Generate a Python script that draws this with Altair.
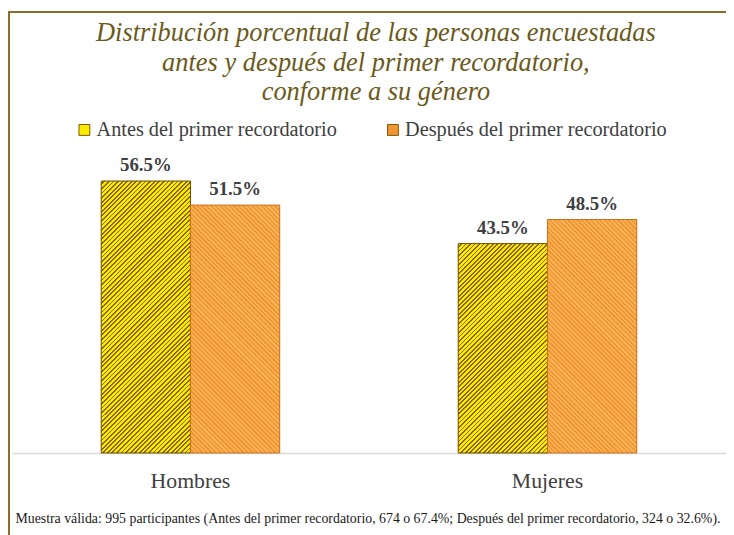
import altair as alt
import pandas as pd

# ---- data ----
generos = ["Hombres", "Hombres", "Mujeres", "Mujeres"]
momentos = [
    "Antes del primer recordatorio",
    "Después del primer recordatorio",
    "Antes del primer recordatorio",
    "Después del primer recordatorio",
]
porcentajes = [56.5, 51.5, 43.5, 48.5]
series = ["Antes del primer recordatorio", "Después del primer recordatorio"]
titulo = [
    "Distribución porcentual de las personas encuestadas",
    "antes y después del primer recordatorio,",
    "conforme a su género",
]
nota = ("Muestra válida: 995 participantes (Antes del primer recordatorio, 674 o 67.4%; "
        "Después del primer recordatorio, 324 o 32.6%).")

# ---- styling ----
PLOT_W, PLOT_H, YMAX = 722, 292, 60
SERIF = "Liberation Serif"
TXT = "#404040"
FRAME = "#8C6D2C"
styles = {
    series[0]: dict(base="#FCEA00", stripe="#8A6400", stroke="#6A4C00", dir="/", frac=0.6),
    series[1]: dict(base="#F29633", stripe="#F7B457", stroke="#C8701E", dir="\\", frac=0.5),
}

df = pd.DataFrame({"genero": generos, "momento": momentos, "porcentaje": porcentajes})
df["etiqueta"] = [f"{v:.1f}%" for v in porcentajes]

step = PLOT_W / (2 - 0.5 + 2 * 0.25)
bar_w = step * 0.5 / 2


def stripes(value, st, period=4.6):
    h = value / YMAX * PLOT_H
    w = bar_w
    k = h / w
    a = (1 + k) / (1 + k * k)
    n = max(1, round((w + h) / period))
    f = st["frac"]
    stops = []
    for i in range(n):
        stops += [
            alt.GradientStop(offset=round(i / n, 5), color=st["base"]),
            alt.GradientStop(offset=round((i + f) / n, 5), color=st["base"]),
            alt.GradientStop(offset=round((i + f) / n, 5), color=st["stripe"]),
            alt.GradientStop(offset=round((i + 1) / n, 5), color=st["stripe"]),
        ]
    if st["dir"] == "/":
        x1, y1, x2, y2 = 0, 0, a, a * k
    else:
        x1, y1, x2, y2 = 1, 0, 1 - a, a * k
    return alt.LinearGradient(gradient="linear", stops=stops,
                              x1=x1, y1=y1, x2=round(x2, 5), y2=round(y2, 5))


x_enc = alt.X(
    "genero:N",
    sort=["Hombres", "Mujeres"],
    scale=alt.Scale(paddingInner=0.5, paddingOuter=0.25),
    axis=alt.Axis(
        title=nota, labelAngle=0, ticks=False, tickSize=0, grid=False,
        domainColor="#D9D9D9", domainWidth=1.5,
        labelFont=SERIF, labelFontSize=22, labelColor=TXT,
        labelBaseline="middle", labelPadding=28,
        titleFont=SERIF, titleFontSize=14, titleFontWeight="normal", titleColor="#1A1A1A",
        titleAnchor="start", titleAlign="left", titleBaseline="middle",
        titleX=3, titleY=66,
    ),
)
xo_enc = alt.XOffset("momento:N", sort=series)
y_enc = alt.Y("porcentaje:Q", scale=alt.Scale(domain=[0, YMAX]), axis=None)

base = alt.Chart(df).encode(x=x_enc, xOffset=xo_enc, y=y_enc)

solid = base.mark_bar().encode(
    color=alt.Color(
        "momento:N",
        sort=series,
        scale=alt.Scale(domain=series, range=[styles[s]["base"] for s in series]),
        legend=alt.Legend(
            title=None, orient="none", direction="horizontal",
            legendX=63, legendY=-45,
            symbolType="square", symbolSize=121, symbolStrokeWidth=1,
            symbolStrokeColor="#7A5800",
            labelFont=SERIF, labelFontSize=20.5, labelColor=TXT, labelLimit=400,
            labelOffset=2, columnPadding=46,
        ),
    )
)

layers = [solid]
for g, m, v in zip(generos, momentos, porcentajes):
    st = styles[m]
    layers.append(
        base.transform_filter(
            (alt.datum.genero == g) & (alt.datum.momento == m)
        ).mark_bar(fill=stripes(v, st), stroke=st["stroke"], strokeWidth=1)
    )

labels = base.mark_text(
    baseline="bottom", dy=-6, font=SERIF, fontSize=19, fontWeight="bold", color=TXT
).encode(text="etiqueta:N")
layers.append(labels)

frame_top = alt.Chart(df).mark_rule(color=FRAME, strokeWidth=2).encode(
    x=alt.value(-4), x2=alt.value(PLOT_W + 10), y=alt.value(-154)
)
frame_left = alt.Chart(df).mark_rule(color=FRAME, strokeWidth=2).encode(
    x=alt.value(-3), y=alt.value(-155), y2=alt.value(PLOT_H + 100)
)
layers += [frame_top, frame_left]

chart = alt.layer(*layers).properties(
    width=PLOT_W,
    height=PLOT_H,
    autosize=alt.AutoSizeParams(type="none"),
    padding={"left": 4, "top": 155, "right": 0, "bottom": 80},
    background="white",
    title=alt.TitleParams(
        text=titulo, font=SERIF, fontSize=26.7, fontStyle="italic", fontWeight="normal",
        color="#6B5A1A", anchor="middle", lineHeight=30, offset=0, dy=97, dx=7,
    ),
).configure_view(stroke=None)

chart.save("out.html", embed_options={"renderer": "svg", "actions": False})
